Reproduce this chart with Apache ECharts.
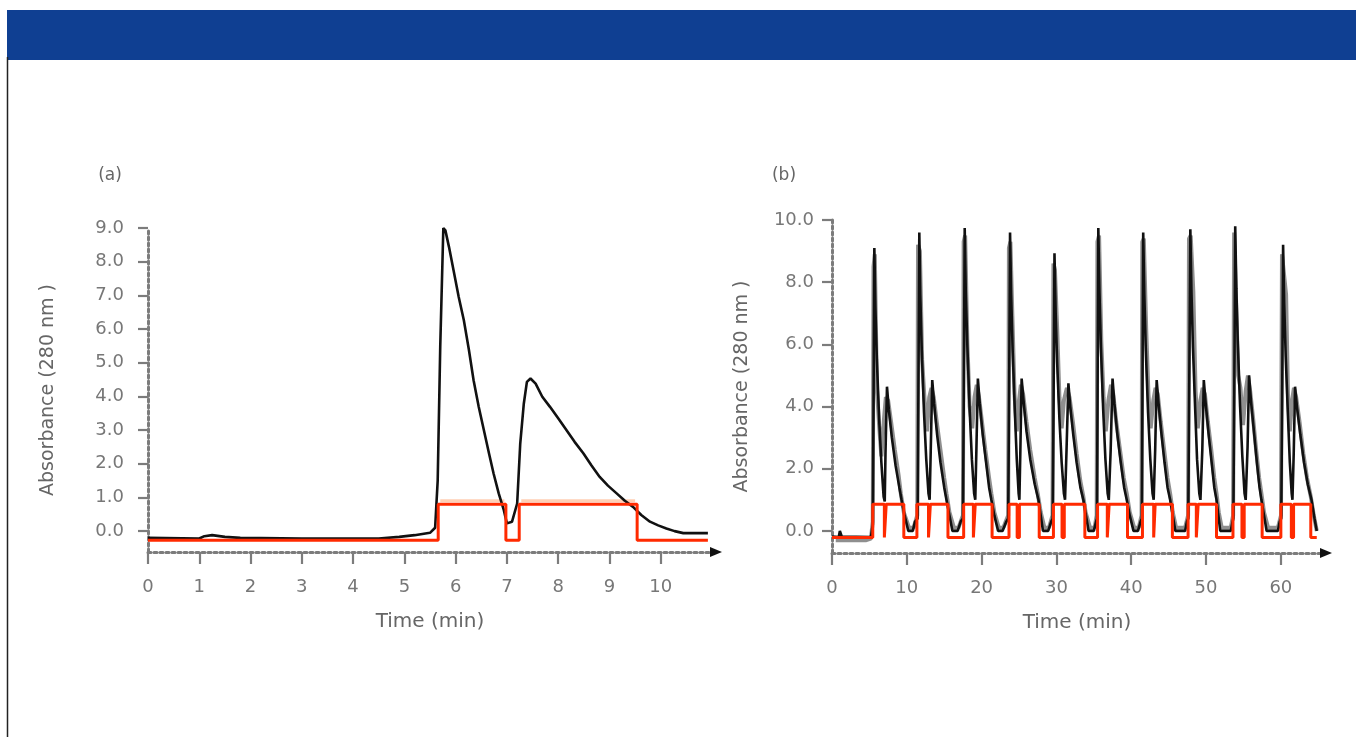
<!DOCTYPE html>
<html>
<head>
<meta charset="utf-8">
<script src="https://cdn.jsdelivr.net/npm/echarts@6/dist/echarts.min.js"></script>
<style>html,body{margin:0;padding:0;background:#fff;}#c{width:1356px;height:737px;}</style>
</head>
<body>
<div id="c"></div>
<script>
// ---------- Panel (a) data ----------
const aXTicks = [0,1,2,3,4,5,6,7,8,9,10];
const aYTicks = [0,1,2,3,4,5,6,7,8,9];
const aAbsorbance = [[0,-0.2],[1.0,-0.22],[1.1,-0.15],[1.25,-0.12],[1.5,-0.17],[1.8,-0.2],[3,-0.22],[4.5,-0.22],[4.9,-0.17],[5.2,-0.12],[5.5,-0.05],[5.6,0.1],[5.65,1.5],[5.7,5.5],[5.76,9.0],[5.8,8.93],[5.87,8.44],[5.96,7.74],[6.06,6.95],[6.16,6.26],[6.26,5.37],[6.35,4.48],[6.45,3.69],[6.55,3.0],[6.65,2.31],[6.74,1.71],[6.84,1.12],[6.94,0.62],[7.0,0.23],[7.1,0.28],[7.2,0.82],[7.26,2.6],[7.33,3.79],[7.39,4.43],[7.46,4.53],[7.56,4.38],[7.69,3.99],[7.84,3.69],[8.0,3.35],[8.16,3.0],[8.32,2.65],[8.49,2.31],[8.65,1.95],[8.81,1.61],[8.97,1.35],[9.14,1.12],[9.3,0.9],[9.46,0.72],[9.62,0.48],[9.79,0.28],[9.95,0.17],[10.11,0.08],[10.27,0.0],[10.44,-0.06],[10.92,-0.06]];
const aStep = [[0,-0.27],[5.66,-0.27],[5.66,0.8],[6.98,0.8],[6.98,-0.27],[7.24,-0.27],[7.24,0.8],[9.54,0.8],[9.54,-0.27],[10.92,-0.27]];
const aPale1 = [[5.7,0.9],[6.95,0.9]];
const aPale2 = [[7.28,0.9],[9.5,0.9]];

// ---------- Panel (b) data ----------
const bXTicks = [0,10,20,30,40,50,60];
const bYTicks = [0,2,4,6,8,10];
const bAbsorbance = [
[0,-0.18],[0.9,-0.2],[1.05,0.0],[1.3,-0.18],[5.2,-0.2],[5.3,-0.18],
[5.45,0.2],[5.55,4.0],[5.66,9.1],[5.8,7.2],[6.0,5.5],[6.3,3.6],[6.6,2.2],[6.9,1.1],[7.05,0.95],[7.15,2.5],[7.35,4.64],[7.6,3.9],[8.0,3.0],[8.5,2.1],[9.0,1.4],[9.3,1.0],[9.7,0.5],[10.2,0.0],[10.8,0.0],[11.1,0.3],
[11.45,0.4],[11.55,4.5],[11.67,9.6],[11.8,7.6],[12.0,5.8],[12.3,3.8],[12.6,2.3],[12.9,1.2],[13.05,1.0],[13.2,2.6],[13.4,4.85],[13.65,4.1],[14.05,3.1],[14.5,2.2],[15.0,1.4],[15.3,1.0],[15.7,0.5],[16.1,0.0],[16.8,0.0],[17.2,0.3],
[17.5,0.4],[17.62,4.5],[17.74,9.74],[17.88,7.7],[18.1,5.9],[18.4,3.9],[18.7,2.3],[19.0,1.2],[19.15,1.0],[19.3,2.6],[19.5,4.9],[19.75,4.1],[20.15,3.1],[20.6,2.2],[21.0,1.4],[21.3,1.0],[21.7,0.5],[22.2,0.0],[22.8,0.0],[23.3,0.3],
[23.55,0.4],[23.68,4.5],[23.8,9.6],[23.95,7.6],[24.15,5.8],[24.45,3.8],[24.7,2.3],[24.95,1.2],[25.05,1.0],[25.18,2.6],[25.35,4.9],[25.6,4.2],[26.0,3.2],[26.5,2.3],[27.1,1.5],[27.6,1.0],[27.9,0.5],[28.2,0.0],[28.9,0.0],[29.3,0.3],
[29.5,0.4],[29.62,4.2],[29.74,8.93],[29.9,7.0],[30.1,5.4],[30.4,3.6],[30.7,2.2],[31.0,1.2],[31.15,1.0],[31.35,2.6],[31.6,4.75],[31.85,4.0],[32.25,3.1],[32.7,2.2],[33.2,1.4],[33.6,1.0],[33.95,0.5],[34.3,0.0],[35.0,0.0],[35.3,0.3],
[35.42,0.4],[35.5,4.5],[35.6,9.74],[35.75,7.7],[35.95,5.9],[36.25,3.9],[36.55,2.3],[36.85,1.2],[37.0,1.0],[37.25,2.6],[37.5,4.9],[37.75,4.1],[38.15,3.1],[38.6,2.2],[39.05,1.4],[39.4,1.0],[39.8,0.5],[40.3,0.0],[40.9,0.0],[41.25,0.3],
[41.42,0.4],[41.5,4.5],[41.6,9.6],[41.75,7.6],[41.95,5.8],[42.25,3.8],[42.55,2.3],[42.85,1.2],[43.0,1.0],[43.2,2.6],[43.4,4.85],[43.65,4.1],[44.05,3.1],[44.45,2.2],[44.85,1.4],[45.2,1.0],[45.55,0.5],[45.9,0.0],[47.2,0.0],[47.45,0.3],
[47.62,0.4],[47.75,4.5],[47.9,9.7],[48.05,7.7],[48.25,5.9],[48.55,3.9],[48.8,2.3],[49.1,1.2],[49.25,1.0],[49.5,2.6],[49.7,4.85],[49.95,4.1],[50.35,3.1],[50.75,2.2],[51.1,1.4],[51.4,1.0],[51.65,0.5],[51.9,0.0],[53.3,0.0],[53.55,0.3],
[53.65,0.4],[53.78,4.6],[53.9,9.8],[54.05,7.8],[54.25,6.0],[54.55,4.0],[54.85,2.4],[55.15,1.2],[55.3,1.0],[55.55,2.7],[55.75,5.0],[56.0,4.2],[56.4,3.2],[56.8,2.2],[57.15,1.4],[57.4,1.0],[57.75,0.5],[58.1,0.0],[59.6,0.0],[59.85,0.3],
[60.05,0.4],[60.18,4.3],[60.3,9.2],[60.45,7.3],[60.65,5.6],[60.95,3.7],[61.2,2.2],[61.45,1.2],[61.55,1.0],[61.72,2.5],[61.9,4.64],[62.15,4.0],[62.6,3.1],[63.1,2.2],[63.6,1.5],[64.1,1.0],[64.5,0.4],[64.8,0.0]
];
const bAbsorbanceGray = [
[0.5,-0.3],[4.5,-0.3],[5.2,-0.25],
[5.45,0.3],[5.55,8.5],[5.72,8.9],[6.0,4.6],[6.3,3.4],[6.6,2.4],[6.95,3.6],[7.2,4.3],[7.5,4.2],[7.9,3.5],[8.4,2.6],[8.9,1.8],[9.2,1.2],[9.6,0.6],[10.3,0.1],[10.9,0.1],
[11.4,0.5],[11.5,9.2],[11.75,9.0],[12.05,5.5],[12.35,4.3],[12.7,3.2],[13.0,4.3],[13.3,4.6],[13.6,4.3],[14.0,3.5],[14.5,2.6],[15.0,1.7],[15.3,1.2],[15.7,0.6],[16.3,0.1],[16.9,0.1],
[17.5,0.5],[17.6,9.3],[17.8,9.5],[18.1,6.0],[18.4,4.0],[18.75,3.3],[19.05,4.3],[19.35,4.7],[19.65,4.3],[20.05,3.5],[20.5,2.6],[21.0,1.7],[21.3,1.2],[21.7,0.6],[22.3,0.1],[22.9,0.1],
[23.55,0.5],[23.65,9.1],[23.85,9.3],[24.1,7.0],[24.4,4.4],[24.7,3.2],[25.0,4.2],[25.25,4.7],[25.55,4.4],[26.0,3.5],[26.5,2.6],[27.1,1.7],[27.5,1.2],[27.9,0.6],[28.4,0.1],[29.0,0.1],
[29.48,0.5],[29.6,8.6],[29.8,8.4],[30.1,6.5],[30.4,4.3],[30.7,3.3],[31.0,4.2],[31.4,4.6],[31.75,4.3],[32.2,3.5],[32.7,2.5],[33.2,1.6],[33.6,1.1],[33.9,0.6],[34.5,0.1],[35.1,0.1],
[35.38,0.5],[35.48,9.3],[35.7,9.5],[36.0,6.1],[36.3,4.3],[36.6,3.2],[36.95,4.2],[37.3,4.7],[37.6,4.4],[38.0,3.5],[38.5,2.6],[39.0,1.7],[39.4,1.2],[39.8,0.6],[40.4,0.1],[41.0,0.1],
[41.38,0.5],[41.48,9.3],[41.68,9.4],[42.0,6.5],[42.3,4.4],[42.6,3.3],[42.95,4.2],[43.25,4.6],[43.55,4.4],[43.95,3.5],[44.4,2.6],[44.85,1.7],[45.2,1.2],[45.55,0.6],[46.0,0.1],[47.2,0.1],
[47.6,0.5],[47.72,9.4],[47.95,9.5],[48.3,7.7],[48.6,4.5],[48.9,3.3],[49.25,4.2],[49.55,4.6],[49.85,4.4],[50.25,3.5],[50.7,2.6],[51.1,1.7],[51.4,1.2],[51.7,0.6],[52.1,0.1],[53.3,0.1],
[53.62,0.5],[53.75,9.6],[54.0,9.6],[54.3,5.0],[54.6,4.6],[54.95,3.4],[55.3,4.5],[55.6,5.0],[55.9,4.5],[56.3,3.6],[56.7,2.6],[57.1,1.7],[57.4,1.2],[57.75,0.6],[58.3,0.1],[59.6,0.1],
[60.02,0.5],[60.15,8.9],[60.4,8.9],[60.7,7.6],[60.95,4.4],[61.2,3.2],[61.5,4.2],[61.75,4.6],[62.05,4.3],[62.5,3.5],[63.0,2.5],[63.5,1.7],[64.0,1.1],[64.4,0.5],[64.8,0.0]
];
const bStepLow = -0.21, bStepHigh = 0.86;
// cycles: [rise, dipStart, dipEnd, fall]
const bStepCycles = [
[5.45,7.0,7.25,9.6],[11.35,12.9,13.15,15.5],[17.6,18.9,19.15,21.4],[23.66,24.75,25.05,27.7],
[29.6,30.75,31.05,33.8],[35.5,36.8,37.05,39.5],[41.5,43.0,43.2,45.5],[47.6,48.7,48.95,51.4],
[53.6,54.8,55.1,57.5],[60.0,61.4,61.7,64.0]
];
const bStepEnd = 64.8;

const bStep = [[0,bStepLow]];
bStepCycles.forEach(c => {
  bStep.push([c[0],bStepLow],[c[0],bStepHigh],[c[1],bStepHigh],[c[1],bStepLow],
             [c[2],bStepLow],[c[2],bStepHigh],[c[3],bStepHigh],[c[3],bStepLow]);
});
bStep.push([bStepEnd,bStepLow]);

const FONT = 'DejaVu Sans';
const TXT = '#777777';
const AX = '#7c7c7c';

function xAxisCfg(grid, max, ticks) {
  return {
    type:'value', gridIndex:grid, min:0, max:max,
    axisLine:{show:true, onZero:false, lineStyle:{color:AX, width:3, type:[3,3]}},
    axisTick:{show:true, inside:false, length:12, customValues:ticks, lineStyle:{color:AX,width:2.2}},
    axisLabel:{customValues:ticks, margin:26, color:TXT, fontFamily:FONT, fontSize:18},
    splitLine:{show:false},
    name:'Time (min)', nameLocation:'middle', nameGap:60,
    nameTextStyle:{color:'#666666', fontFamily:FONT, fontSize:20}
  };
}
function yAxisCfg(grid, min, max, ticks, margin, gap) {
  return {
    type:'value', gridIndex:grid, min:min, max:max,
    axisLine:{show:true, onZero:false, lineStyle:{color:AX, width:3, type:[3,3]}},
    axisTick:{show:true, inside:false, length:10, customValues:ticks, lineStyle:{color:AX,width:2.2}},
    axisLabel:{customValues:ticks, margin:margin, color:TXT, fontFamily:FONT, fontSize:18,
      formatter:v=>Number(v).toFixed(1)},
    splitLine:{show:false},
    name:'Absorbance (280 nm )', nameLocation:'middle', nameGap:gap, nameRotate:90,
    nameTextStyle:{color:'#666666', fontFamily:FONT, fontSize:19}
  };
}
function line(x, y, data, color, width, z) {
  return {type:'line', xAxisIndex:x, yAxisIndex:y, data:data, symbol:'none', showSymbol:false,
    lineStyle:{color:color, width:width}, z:z, silent:true, animation:false};
}

const chart = echarts.init(document.getElementById('c'), null, {renderer:'canvas'});
chart.setOption({
  backgroundColor:'#ffffff',
  animation:false,
  grid:[
    {left:148, top:228, width:564, height:324},
    {left:832, top:220, width:490, height:333}
  ],
  xAxis:[xAxisCfg(0, 11, aXTicks), xAxisCfg(1, 65.5, bXTicks)],
  yAxis:[yAxisCfg(0, -0.62, 9, aYTicks, 24, 90), yAxisCfg(1, -0.71, 10, bYTicks, 18, 80)],
  series:[
    line(0,0,aPale1,'#ffcfb4',3,2),
    line(0,0,aPale2,'#ffcfb4',3,2),
    line(0,0,aAbsorbance,'#111111',2.6,3),
    line(0,0,aStep,'#ff2a00',3,4),
    line(1,1,bAbsorbanceGray,'#8f8f8f',4,2),
    line(1,1,bAbsorbance,'#111111',2.6,3),
    line(1,1,bStep,'#ff2a00',3,4)
  ]
});

// decorations: header band, page border, panel letters, axis arrowheads at the axis ends
function arrowAt(xi, xMax, yMin) {
  const p = chart.convertToPixel({xAxisIndex:xi, yAxisIndex:xi}, [xMax, yMin]);
  return {type:'polygon', shape:{points:[[p[0]-2,p[1]-5],[p[0]+10,p[1]],[p[0]-2,p[1]+5]]},
    style:{fill:'#111'}, z:20};
}
chart.setOption({
  graphic:[
    {type:'rect', shape:{x:7, y:10, width:1349, height:50}, style:{fill:'#0f3f92'}, z:10},
    {type:'line', shape:{x1:7.5, y1:57, x2:7.5, y2:737}, style:{stroke:'#222', lineWidth:1.5}, z:10},
    {type:'text', x:110, y:176, style:{text:'(a)', fill:'#666', font:'17px "DejaVu Sans"', align:'center', verticalAlign:'middle'}},
    {type:'text', x:784, y:176, style:{text:'(b)', fill:'#666', font:'17px "DejaVu Sans"', align:'center', verticalAlign:'middle'}},
    arrowAt(0, 11, -0.62),
    arrowAt(1, 65.5, -0.71)
  ]
});
</script>
</body>
</html>
